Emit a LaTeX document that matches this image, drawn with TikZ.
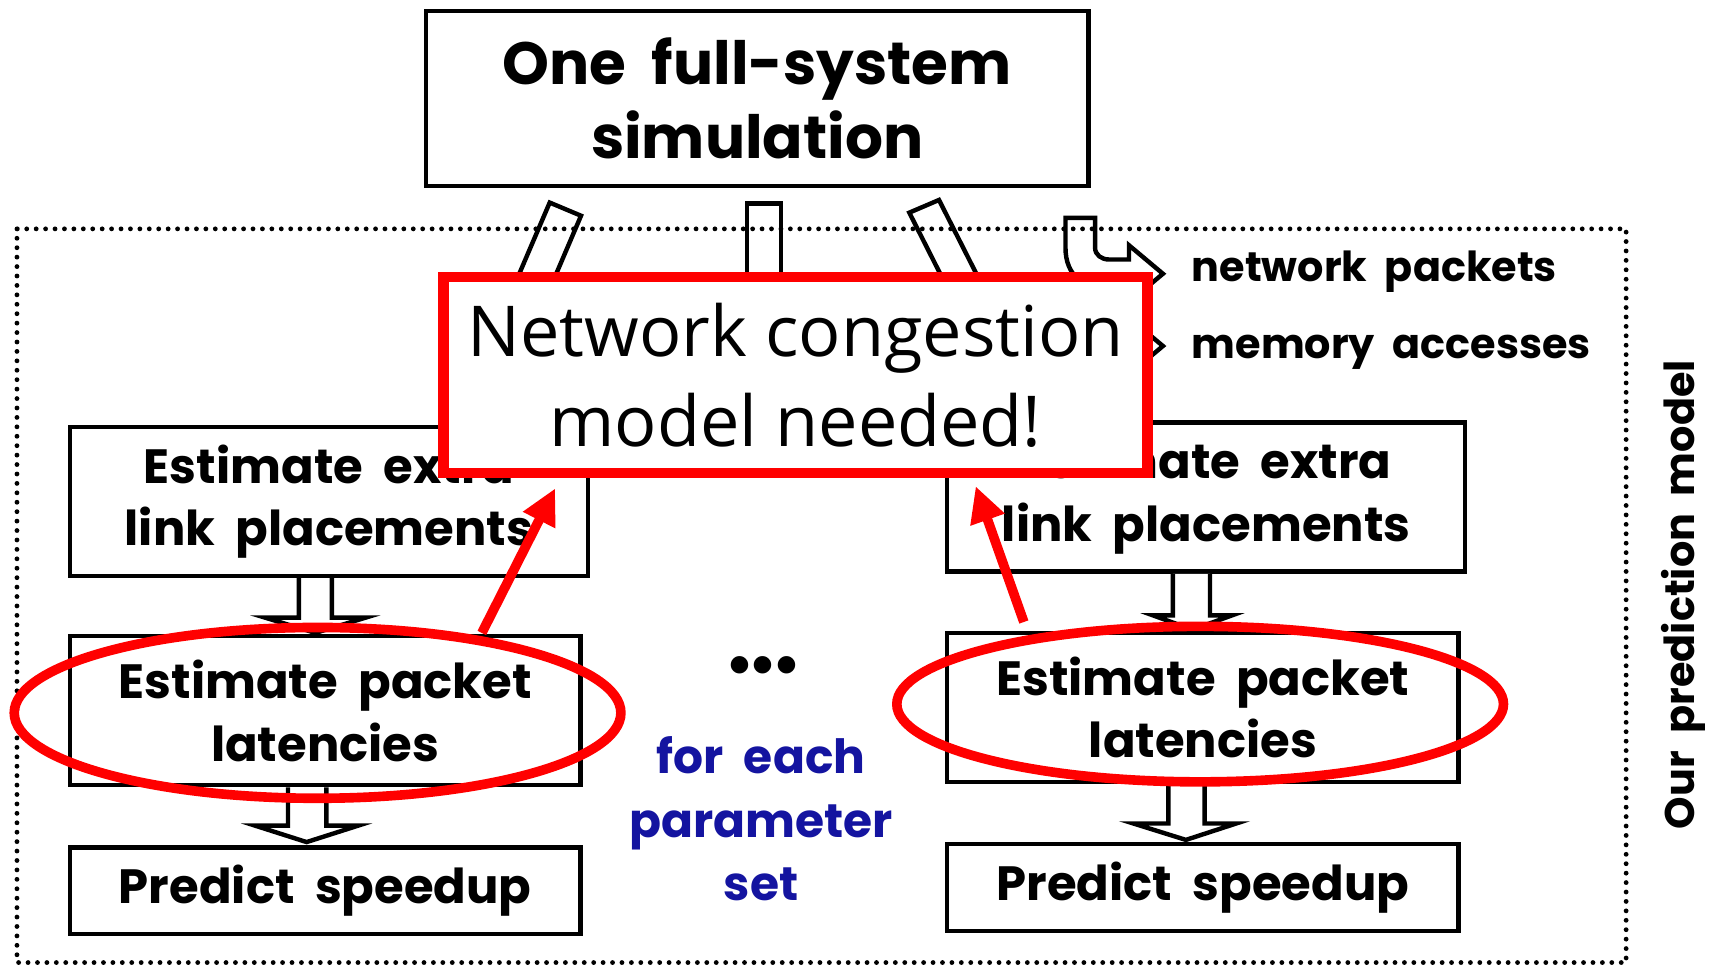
\documentclass[tikz,border=0pt]{standalone}
\usepackage{fontspec}
\setmainfont{Poppins}[WordSpace=2]
\newfontfamily\redfont{Open Sans}
\usetikzlibrary{arrows.meta,shapes.geometric}
\definecolor{myred}{RGB}{255,0,0}
\definecolor{myblue}{RGB}{20,20,160}
\begin{document}
\begin{tikzpicture}[x=0.02cm,y=-0.02cm,
  box/.style={draw=black,line width=2.3pt,fill=white,inner sep=0pt,align=center,
    font=\fontsize{25}{32.5}\selectfont\bfseries},
  blockarrow/.style={draw=black,line width=2.3pt,line join=miter},
  redline/.style={draw=myred,line width=5pt},
  lbl/.style={font=\fontsize{21.5}{24}\selectfont\bfseries,inner sep=0pt},
]
\useasboundingbox (0,0) rectangle (1568,882);
% dotted frame
\draw[line width=2.5pt,dash pattern=on 0pt off 4.9pt,line cap=round] (15.5,209) rectangle (1485,879);
% boxes
\node[box,minimum width=12.1cm,minimum height=3.2cm,font=\fontsize{31}{38.7}\selectfont\bfseries] (sim) at (691.5,90) {One full-system\\simulation};
\node[box,minimum width=9.46cm,minimum height=2.72cm] (A1) at (300.5,458) {Estimate extra\\link placements};
\node[box,minimum width=9.32cm,minimum height=2.72cm] (A2) at (297,649) {Estimate packet\\latencies};
\node[box,minimum width=9.32cm,minimum height=1.58cm] (A3) at (297,813.5) {Predict speedup};
\node[box,minimum width=9.46cm,minimum height=2.72cm] (B1) at (1101.5,454) {Estimate extra\\link placements};
\node[box,minimum width=9.34cm,minimum height=2.72cm] (B2) at (1098.5,646) {Estimate packet\\latencies};
\node[box,minimum width=9.34cm,minimum height=1.58cm] (B3) at (1098.5,810.5) {Predict speedup};
% block arrows between boxes
\draw[blockarrow,fill=white] (273,528) -- (273,564) -- (242,564) -- (288,578) -- (334,564) -- (303,564) -- (303,528);
\draw[blockarrow,fill=white] (263,719) -- (263,754) -- (233,754) -- (280,769) -- (327,754) -- (298,754) -- (298,719);
\draw[blockarrow,fill=white] (1071,524) -- (1071,562) -- (1053,562) -- (1089,575) -- (1125,562) -- (1105,562) -- (1105,524);
\draw[blockarrow,fill=white] (1067,716) -- (1067,752) -- (1035,752) -- (1083,767) -- (1129,752) -- (1100,752) -- (1100,716);
% block arrows from simulation (mostly hidden)
\draw[blockarrow] (443,323) -- (502,185) -- (530.6,197) -- (471.7,335);
\draw[blockarrow] (682,320) -- (682,186) -- (713,186) -- (713,320);
\draw[blockarrow] (898,328) -- (830.4,194.2) -- (857.5,182.6) -- (925,316);
% legend icons
\draw[blockarrow] (973,199) -- (1000,199) -- (1000,226) .. controls (1000,233) and (1006,237) .. (1013,237) -- (1031,237) -- (1031,224) -- (1062,250) -- (1031,276) -- (1031,264) -- (1013,264) .. controls (990,264) and (973,252) .. (973,226) -- cycle;
\draw[blockarrow] (973,265) -- (1000,265) -- (1000,292) .. controls (1000,299) and (1006,303) .. (1013,303) -- (1031,303) -- (1031,290) -- (1062,316) -- (1031,342) -- (1031,330) -- (1013,330) .. controls (990,330) and (973,318) .. (973,292) -- cycle;
\node[lbl,anchor=base west] (lg1) at (1088,257) {network packets};
\node[lbl,anchor=base west] (lg2) at (1088,327) {memory accesses};
% side label
\node[lbl,rotate=90] (side) at (1537,543) {Our prediction model};
% middle
\node[font=\fontsize{30}{30}\selectfont\bfseries,inner sep=0pt] (dots) at (698,612) {\kern-1pt•\kern-3pt•\kern-3pt•};
\node[font=\fontsize{24.5}{33}\selectfont\bfseries,text=myblue,align=center] (each) at (695,748) {for each\\parameter\\set};
% red overlay
\node[draw=myred,line width=5.5pt,fill=white,minimum width=12.86cm,minimum height=3.58cm,inner sep=0pt,
  font=\redfont\fontsize{36.5}{47}\selectfont,align=center] (cong) at (726.5,342.5) {Network congestion\\model needed!};
\draw[redline] (290,651) ellipse [x radius=277, y radius=78];
\draw[redline] (1096,643) ellipse [x radius=277, y radius=71];
\coordinate (la) at (440,578);
\coordinate (ra) at (935,568);
\coordinate (lt) at (507,446);
\coordinate (rt) at (891,444);
\draw[redline,-{Triangle[length=0.65cm,width=0.62cm]}] (la) -- (lt);
\draw[redline,-{Triangle[length=0.65cm,width=0.62cm]}] (ra) -- (rt);
\end{tikzpicture}
\end{document}
